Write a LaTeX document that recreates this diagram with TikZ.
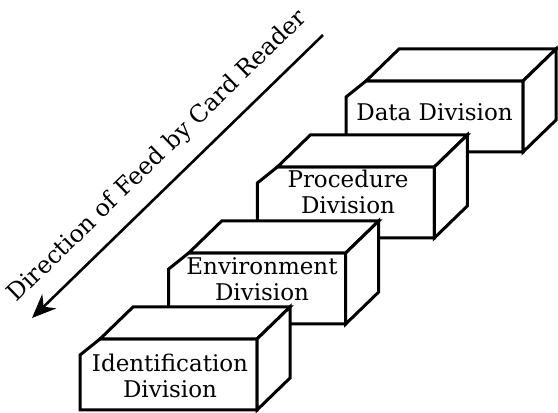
\documentclass[tikz,border=0pt]{standalone}
\usepackage{fontspec}
\setmainfont{DejaVu Serif}
\usetikzlibrary{arrows.meta}
\tikzstyle{cardface} = [draw, fill=white, line width=1.5pt, line join=miter]
\tikzstyle{divlabel} = [align=center, inner sep=0pt,
font=\fontsize{11.5}{13}\selectfont]
\tikzstyle{feedtext} = [sloped, above=7.5pt, inner sep=0pt,
font=\fontsize{11.9}{13}\selectfont]

% box with cut corner, #1 name, (#2,#3) front bottom left corner
\newcommand{\cardbox}[3]{
  \begin{scope}[shift={(#2,#3)}]
    \coordinate (#1) at (0,0);
    \draw[cardface] (0,0) -- (0,55) -- (20,71) -- (177,71) -- (177,0) -- cycle;
    \draw[cardface] (20,71) -- (53,103) -- (210,103) -- (177,71) -- cycle;
    \draw[cardface] (177,0) -- (177,71) -- (210,103) -- (210,32) -- cycle;
  \end{scope}}

\begin{document}
\begin{tikzpicture}[x=0.5pt, y=0.5pt]
                    \useasboundingbox (0,0) rectangle (558,413);
                    \cardbox{datab}{346}{261}
                    \cardbox{procb}{257.3}{175}
                    \cardbox{envb}{168.7}{89}
                    \cardbox{identb}{80}{3}
                    \node[divlabel] (data) at (434.5,301) {Data Division};
                    \node[divlabel] (proc) at (348,221) {Procedure\\Division};
                    \node[divlabel] (env) at (262,134) {Environment\\Division};
                    \node[divlabel] (ident) at (170,37) {Identification\\Division};
                    \coordinate (feedtop) at (323,378);
                    \coordinate (feedtip) at (32,95);
                    \draw[line width=1.3pt, -{Stealth[length=12pt, width=10pt]}]
                        (feedtop) -- node[feedtext] (feed) {Direction of Feed by Card Reader} (feedtip);
                \end{tikzpicture}
\end{document}
